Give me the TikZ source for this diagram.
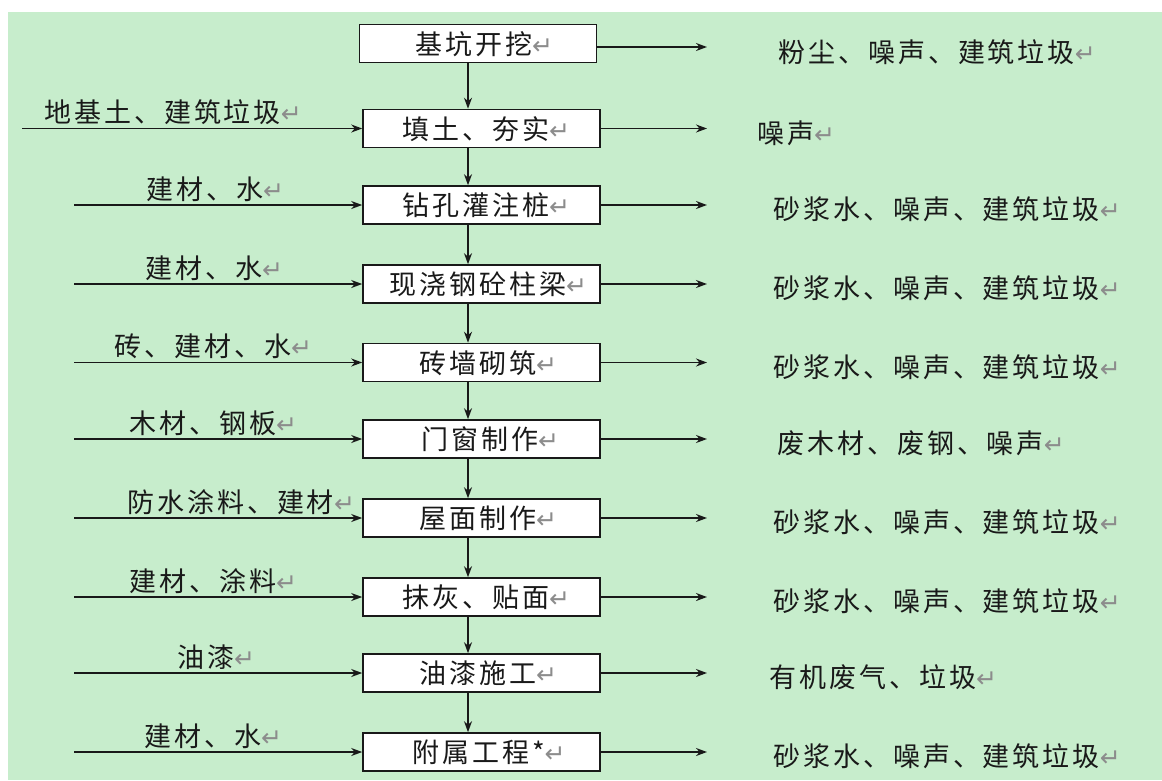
\documentclass[tikz,border=0pt]{standalone}
\usepackage{fontspec}
\usetikzlibrary{arrows.meta}
\newfontfamily\cjk[LetterSpace=11]{Noto Sans CJK SC}
\newfontfamily\dvs{DejaVu Sans}
\definecolor{bggreen}{RGB}{199,237,204}
\definecolor{retgray}{RGB}{140,140,140}
\definecolor{ink}{RGB}{25,25,25}
\newcommand\retmark{{\dvs\fontsize{25}{25}\selectfont\color{retgray}↵}}
\begin{document}
\begin{tikzpicture}[x=1pt,y=-1pt,
  box/.style={draw=ink,fill=white,line width=1.6pt,minimum width=237pt,minimum height=38pt,inner sep=0pt},
  txt/.style={font=\cjk\fontsize{27}{27}\selectfont,inner sep=0pt,anchor=base west,text=ink},
  arr/.style={line width=1.6pt,draw=ink,-{Stealth[length=11pt,width=8pt]}}]
\useasboundingbox (0,0) rectangle (1162,780);
\fill[bggreen] (8,12) rectangle (1162,780);
\coordinate (vx) at (468,0);
% boxes
\node[box] (b1) at (478,43.5) {};
\node[box] (b2) at (481.5,128.5) {};
\node[box] (b3) at (481.5,205) {};
\node[box] (b4) at (481.5,284) {};
\node[box] (b5) at (481.5,362.5) {};
\node[box] (b6) at (481.5,439) {};
\node[box] (b7) at (481.5,518) {};
\node[box] (b8) at (481.5,597) {};
\node[box] (b9) at (481.5,673) {};
\node[box] (b10) at (481.5,752) {};
% box texts
\node[txt] (t1) at (415,54) {基坑开挖\retmark};
\node[txt] (t2) at (402,139) {填土、夯实\retmark};
\node[txt] (t3) at (402,215.5) {钻孔灌注桩\retmark};
\node[txt] (t4) at (389,294.5) {现浇钢砼柱梁\retmark};
\node[txt] (t5) at (419,373) {砖墙砌筑\retmark};
\node[txt] (t6) at (421,449.5) {门窗制作\retmark};
\node[txt] (t7) at (419,528.5) {屋面制作\retmark};
\node[txt] (t8) at (402,607.5) {抹灰、贴面\retmark};
\node[txt] (t9) at (419,683.5) {油漆施工\retmark};
\node[txt] (t10) at (412,762.5) {附属工程*\retmark};
% vertical arrows
\draw[arr] (b1.south -| vx) -- (b2.north -| vx);
\draw[arr] (b2.south -| vx) -- (b3.north -| vx);
\draw[arr] (b3.south -| vx) -- (b4.north -| vx);
\draw[arr] (b4.south -| vx) -- (b5.north -| vx);
\draw[arr] (b5.south -| vx) -- (b6.north -| vx);
\draw[arr] (b6.south -| vx) -- (b7.north -| vx);
\draw[arr] (b7.south -| vx) -- (b8.north -| vx);
\draw[arr] (b8.south -| vx) -- (b9.north -| vx);
\draw[arr] (b9.south -| vx) -- (b10.north -| vx);
% input arrows
\coordinate (s2) at (22,128.5);
\coordinate (s3) at (74,205);
\coordinate (s4) at (74,284);
\coordinate (s5) at (74,362.5);
\coordinate (s6) at (74,439);
\coordinate (s7) at (74,518);
\coordinate (s8) at (74,597);
\coordinate (s9) at (74,673);
\coordinate (s10) at (74,752);
\draw[arr] (s2) -- (b2.west);
\draw[arr] (s3) -- (b3.west);
\draw[arr] (s4) -- (b4.west);
\draw[arr] (s5) -- (b5.west);
\draw[arr] (s6) -- (b6.west);
\draw[arr] (s7) -- (b7.west);
\draw[arr] (s8) -- (b8.west);
\draw[arr] (s9) -- (b9.west);
\draw[arr] (s10) -- (b10.west);
% input labels
\node[txt] (l2) at (44,122.5) {地基土、建筑垃圾\retmark};
\node[txt] (l3) at (146,199) {建材、水\retmark};
\node[txt] (l4) at (145,278) {建材、水\retmark};
\node[txt] (l5) at (114,356.5) {砖、建材、水\retmark};
\node[txt] (l6) at (129,433) {木材、钢板\retmark};
\node[txt] (l7) at (127,512) {防水涂料、建材\retmark};
\node[txt] (l8) at (129,591) {建材、涂料\retmark};
\node[txt] (l9) at (177,667) {油漆\retmark};
\node[txt] (l10) at (144,746) {建材、水\retmark};
% output arrows
\coordinate (e1) at (707,47);
\coordinate (e2) at (707,128.5);
\coordinate (e3) at (707,205);
\coordinate (e4) at (707,284);
\coordinate (e5) at (707,362.5);
\coordinate (e6) at (707,439);
\coordinate (e7) at (707,518);
\coordinate (e8) at (707,597);
\coordinate (e9) at (707,673);
\coordinate (e10) at (707,752);
\draw[arr] (b1.east |- e1) -- (e1);
\draw[arr] (b2.east) -- (e2);
\draw[arr] (b3.east) -- (e3);
\draw[arr] (b4.east) -- (e4);
\draw[arr] (b5.east) -- (e5);
\draw[arr] (b6.east) -- (e6);
\draw[arr] (b7.east) -- (e7);
\draw[arr] (b8.east) -- (e8);
\draw[arr] (b9.east) -- (e9);
\draw[arr] (b10.east) -- (e10);
% output labels
\node[txt] (r1) at (778,62) {粉尘、噪声、建筑垃圾\retmark};
\node[txt] (r2) at (757,143) {噪声\retmark};
\node[txt] (r3) at (773,219.5) {砂浆水、噪声、建筑垃圾\retmark};
\node[txt] (r4) at (773,298.5) {砂浆水、噪声、建筑垃圾\retmark};
\node[txt] (r5) at (773,377) {砂浆水、噪声、建筑垃圾\retmark};
\node[txt] (r6) at (777,453.5) {废木材、废钢、噪声\retmark};
\node[txt] (r7) at (773,532.5) {砂浆水、噪声、建筑垃圾\retmark};
\node[txt] (r8) at (773,611.5) {砂浆水、噪声、建筑垃圾\retmark};
\node[txt] (r9) at (769,687.5) {有机废气、垃圾\retmark};
\node[txt] (r10) at (773,766.5) {砂浆水、噪声、建筑垃圾\retmark};
\end{tikzpicture}
\end{document}
